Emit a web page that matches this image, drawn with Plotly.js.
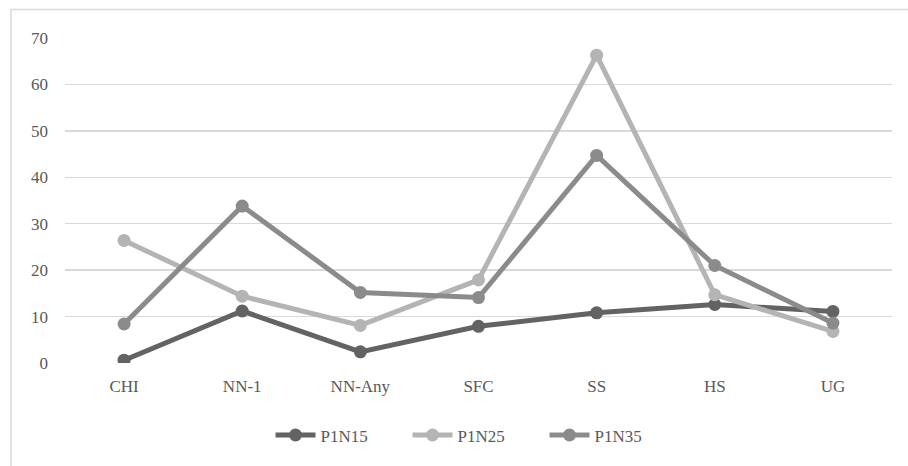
<!DOCTYPE html>
<html>
<head>
<meta charset="utf-8">
<script src="https://cdn.plot.ly/plotly-3.0.1.min.js"></script>
<style>html,body{margin:0;padding:0;background:#fff;}#chart{width:908px;height:466px;}</style>
</head>
<body>
<div id="chart"></div>
<script>
var categories = ["CHI", "NN-1", "NN-Any", "SFC", "SS", "HS", "UG"];
var seriesNames = ["P1N15", "P1N25", "P1N35"];
var p1n15 = [0.6, 11.2, 2.4, 7.9, 10.8, 12.6, 11.1];
var p1n25 = [26.4, 14.4, 8.1, 17.9, 66.3, 14.7, 6.8];
var p1n35 = [8.4, 33.8, 15.2, 14.1, 44.7, 21.0, 8.6];
var yTicks = [0, 10, 20, 30, 40, 50, 60, 70];

var colors = ["#636363", "#b4b4b4", "#8b8b8b"];
var allValues = [p1n15, p1n25, p1n35];

var traces = allValues.map(function (vals, i) {
  return {
    x: categories,
    y: vals,
    name: seriesNames[i],
    type: "scatter",
    mode: "lines+markers",
    line: { color: colors[i], width: 5 },
    marker: { color: colors[i], size: 13 }
  };
});

var font = { family: "'Liberation Serif', 'DejaVu Serif', serif", size: 17, color: "#595959" };

var layout = {
  width: 908,
  height: 466,
  margin: { l: 65, r: 16, t: 38, b: 102.5 },
  paper_bgcolor: "#ffffff",
  plot_bgcolor: "#ffffff",
  font: font,
  showlegend: true,
  legend: {
    orientation: "h",
    x: 0.497, xanchor: "center",
    y: -0.223, yanchor: "middle",
    font: font,
    itemwidth: 40,
    entrywidth: 82,
    entrywidthmode: "pixels",
    tracegroupgap: 0
  },
  xaxis: {
    type: "category",
    range: [-0.5, 6.5],
    showgrid: false,
    zeroline: false,
    showline: false,
    ticks: "",
    ticklabelstandoff: 11,
    tickfont: font
  },
  yaxis: {
    range: [0, 70],
    tickvals: yTicks,
    ticktext: yTicks.map(String),
    showgrid: true,
    gridcolor: "#d9d9d9",
    gridwidth: 1.5,
    zeroline: false,
    showline: false,
    ticks: "",
    ticklabelstandoff: 16,
    tickfont: font
  },
  shapes: [{
    type: "rect",
    xref: "paper", yref: "paper",
    x0: (11 - 65) / 827, x1: 1.2,
    y0: -0.5, y1: (363.5 - 9.5) / 325.5,
    line: { color: "#d9d9d9", width: 1.5 },
    fillcolor: "rgba(0,0,0,0)",
    layer: "below"
  }]
};

Plotly.newPlot("chart", traces, layout, { displayModeBar: false, staticPlot: true });
</script>
</body>
</html>
